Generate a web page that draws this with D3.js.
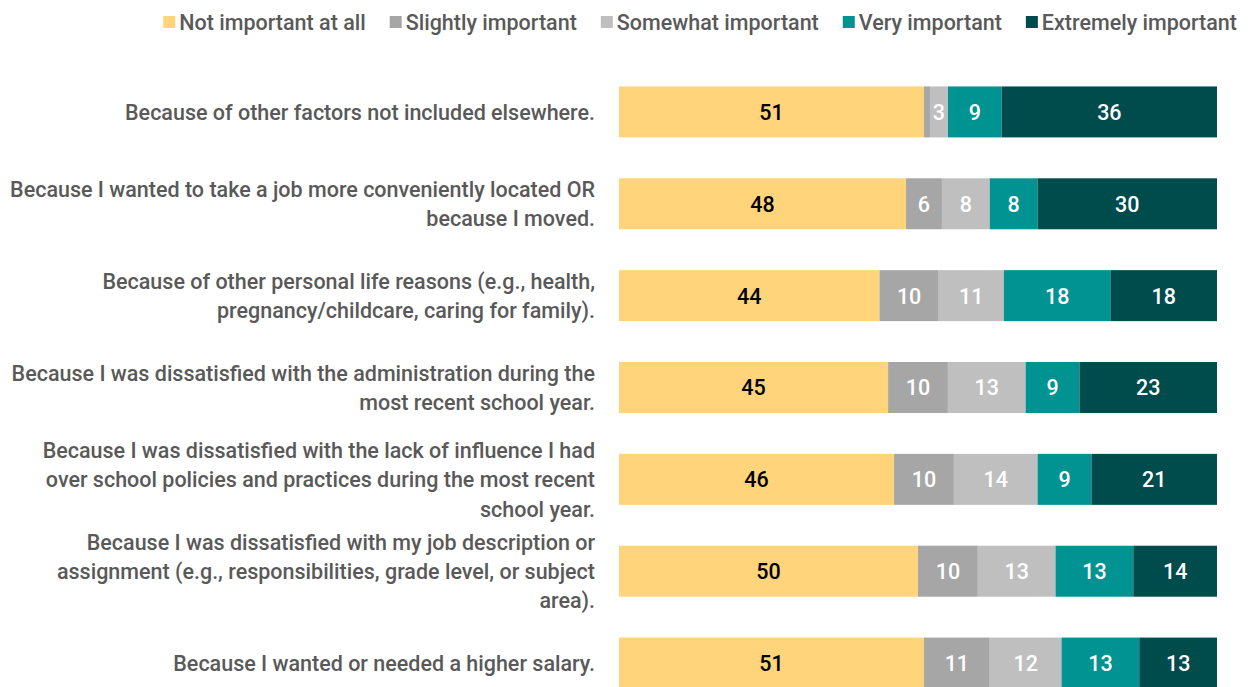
<!DOCTYPE html>
<html>
<head>
<meta charset="utf-8">
<script src="https://cdn.jsdelivr.net/npm/d3@7"></script>
<style>
  body { margin: 0; background: #fff; }
  svg { font-family: Roboto, "Liberation Sans", sans-serif; font-weight: 500; }
</style>
</head>
<body>
<div id="chart"></div>
<script>
const categories = [
  "Because of other factors not included elsewhere.",
  "Because I wanted to take a job more conveniently located OR because I moved.",
  "Because of other personal life reasons (e.g., health, pregnancy/childcare, caring for family).",
  "Because I was dissatisfied with the administration during the most recent school year.",
  "Because I was dissatisfied with the lack of influence I had over school policies and practices during the most recent school year.",
  "Because I was dissatisfied with my job description or assignment (e.g., responsibilities, grade level, or subject area).",
  "Because I wanted or needed a higher salary."
];

// wrapped lines as shown in the chart
const categoryLines = [
  ["Because of other factors not included elsewhere."],
  ["Because I wanted to take a job more conveniently located OR", "because I moved."],
  ["Because of other personal life reasons (e.g., health,", "pregnancy/childcare, caring for family)."],
  ["Because I was dissatisfied with the administration during the", "most recent school year."],
  ["Because I was dissatisfied with the lack of influence I had", "over school policies and practices during the most recent", "school year."],
  ["Because I was dissatisfied with my job description or", "assignment (e.g., responsibilities, grade level, or subject", "area)."],
  ["Because I wanted or needed a higher salary."]
];

const seriesNames = ["Not important at all", "Slightly important", "Somewhat important", "Very important", "Extremely important"];

const notImportant  = [51, 48, 44, 45, 46, 50, 51];
const slightly      = [1, 6, 10, 10, 10, 10, 11];
const somewhat      = [3, 8, 11, 13, 14, 13, 12];
const veryImportant = [9, 8, 18, 9, 9, 13, 13];
const extremely     = [36, 30, 18, 23, 21, 14, 13];

const colors = ["#FFD47A", "#A6A6A6", "#BFBFBF", "#009391", "#004B4C"];
const labelColors = ["#000", "#fff", "#fff", "#fff", "#fff"];

const width = 1249, height = 687;
const fontSize = 22;

const rows = categories.map((c, i) => ({
  cat: c,
  [seriesNames[0]]: notImportant[i],
  [seriesNames[1]]: slightly[i],
  [seriesNames[2]]: somewhat[i],
  [seriesNames[3]]: veryImportant[i],
  [seriesNames[4]]: extremely[i]
}));

const stacked = d3.stack().keys(seriesNames).offset(d3.stackOffsetExpand)(rows);

const x = d3.scaleLinear().domain([0, 1]).range([619, 1217]);
const y = d3.scaleBand()
  .domain(categories)
  .range([66, 709])
  .paddingInner(0.445)
  .paddingOuter(0.2225);

const color = d3.scaleOrdinal().domain(seriesNames).range(colors);

const svg = d3.select("#chart").append("svg")
  .attr("width", width)
  .attr("height", height);

// the original uses a condensed face, so squeeze text horizontally
const probe = svg.append("text").attr("font-size", fontSize).text(categoryLines[0][0]);
const sx = 470 / probe.node().getComputedTextLength();
probe.remove();

const layer = svg.selectAll("g.layer")
  .data(stacked)
  .enter().append("g")
  .attr("class", "layer")
  .attr("fill", d => color(d.key));

layer.selectAll("rect")
  .data(d => d)
  .enter().append("rect")
  .attr("x", d => x(d[0]))
  .attr("y", d => y(d.data.cat))
  .attr("width", d => x(d[1]) - x(d[0]))
  .attr("height", y.bandwidth());

layer.selectAll("text")
  .data((d, i) => d.map(s => ({ s, key: d.key, idx: i })))
  .enter().append("text")
  .filter(d => x(d.s[1]) - x(d.s[0]) > 12)
  .attr("transform", d => `translate(${(x(d.s[0]) + x(d.s[1])) / 2},${y(d.s.data.cat) + y.bandwidth() / 2}) scale(${sx},1)`)
  .attr("dy", "0.36em")
  .attr("text-anchor", "middle")
  .attr("font-size", fontSize)
  .attr("fill", d => labelColors[d.idx])
  .text(d => d.s.data[d.key]);

// category labels
const lineH = 29.3;
svg.append("g").selectAll("text")
  .data(categories)
  .enter().append("text")
  .attr("text-anchor", "end")
  .attr("font-size", fontSize)
  .attr("fill", "#595959")
  .attr("transform", c => `translate(595,${y(c) + y.bandwidth() / 2}) scale(${sx},1)`)
  .each(function (c, i) {
    const lines = categoryLines[i];
    const top = -(lines.length - 1) * lineH / 2;
    d3.select(this).selectAll("tspan")
      .data(lines)
      .enter().append("tspan")
      .attr("x", 0)
      .attr("y", (l, j) => top + j * lineH)
      .attr("dy", "0.36em")
      .text(l => l);
  });

// legend, right aligned
const legend = svg.append("g");
const items = legend.selectAll("g")
  .data(seriesNames)
  .enter().append("g");
items.append("rect")
  .attr("width", 12).attr("height", 12)
  .attr("y", -6)
  .attr("fill", d => color(d));
items.append("text")
  .attr("transform", `translate(16,0) scale(${sx},1)`)
  .attr("dy", "0.36em")
  .attr("font-size", fontSize)
  .attr("fill", "#595959")
  .text(d => d);

let widths = [];
items.each(function () {
  widths.push(16 + d3.select(this).select("text").node().getComputedTextLength() * sx);
});
const gap = 24;
const total = d3.sum(widths) + gap * (widths.length - 1);
let cx = 1237 - total;
items.attr("transform", (d, i) => {
  const t = `translate(${cx},22)`;
  cx += widths[i] + gap;
  return t;
});
</script>
</body>
</html>
